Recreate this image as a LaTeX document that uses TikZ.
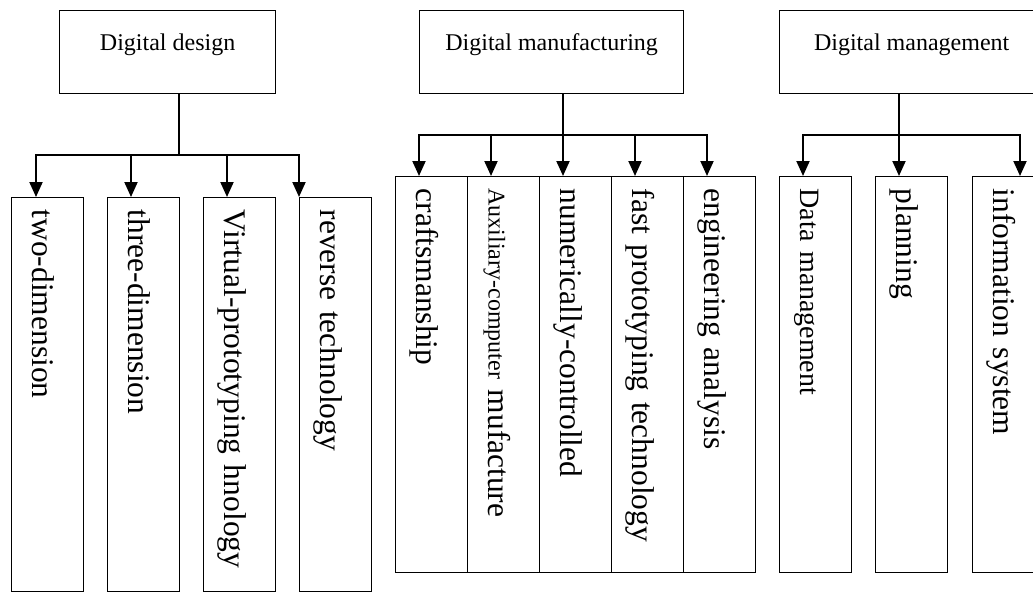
\documentclass[tikz,border=0pt]{standalone}
\usepackage{fontspec}
\setmainfont{Liberation Serif}
\usetikzlibrary{arrows.meta}

\begin{document}
\begin{tikzpicture}[x=1pt,y=-1pt,
  >={Triangle[width=13pt,length=15pt]},
  head/.style={draw,rectangle,line width=1.3pt,inner sep=0pt,text height=40pt,text depth=43pt,anchor=north west,font=\fontsize{24}{28}\selectfont},
  leaf/.style={draw,rectangle,line width=1.3pt,rotate=-90,anchor=south west,align=left,text width=#1,inner xsep=12pt,inner ysep=0pt,text height=51pt,text depth=21pt,font=\fontsize{31.5}{36}\selectfont},
  leaf/.default=372pt,
  link/.style={line width=2pt},
  arr/.style={->,line width=2pt}]
      \clip (0,0) rectangle (1033,592);

     % top row
     \node [head,minimum width=216pt] (dd) at (59,10) {Digital design};
     \node [head,minimum width=264pt] (dm) at (419,10) {Digital manufacturing};
     \node [head,minimum width=264pt] (dg) at (779,10) {Digital management};

     % design (rotated boxes: south west is the top left corner)
     \node [leaf=370pt] (d1) at (11,197) {two-dimension};
     \node [leaf=370pt] (d2) at (107,197) {three-dimension};
     \node [leaf=370pt] (d3) at (203,197) {Virtual-prototyping hnology};
     \node [leaf=370pt] (d4) at (299,197) {reverse technology};

     % manufacturing
     \node [leaf] (m1) at (395,176) {craftsmanship};
     \node [leaf] (m2) at (467,176) {{\fontsize{24}{24}\selectfont Auxiliary-computer} mufacture};
     \node [leaf] (m3) at (539,176) {numerically-controlled};
     \node [leaf] (m4) at (611,176) {fast prototyping technology};
     \node [leaf] (m5) at (683,176) {engineering analysis};

     % management
     \node [leaf] (g1) at (779,176) {\fontsize{28}{30}\selectfont Data management};
     \node [leaf] (g2) at (875,176) {planning};
     \node [leaf] (g3) at (972,176) {information system};

     \coordinate (dj) at (179,155);
     \coordinate (mj) at (563,135);
     \coordinate (gj) at (899,135);

     \draw[link] (dd.south -| dj) -- (dj);
     \draw[link] (dm.south -| mj) -- (mj);
     \draw[link] (dg.south -| gj) -- (gj);

     \foreach \n/\dx in {d1/25,d2/24,d3/24,d4/0}
	\draw[arr] (dj) -| ([xshift=\dx pt]\n.south west);
     \foreach \n in {m1,m2,m3,m4,m5}
	\draw[arr] (mj) -| ([xshift=24pt]\n.south west);
     \foreach \n/\dx in {g1/24,g2/24,g3/48}
	\draw[arr] (gj) -| ([xshift=\dx pt]\n.south west);

  \end{tikzpicture}
\end{document}
